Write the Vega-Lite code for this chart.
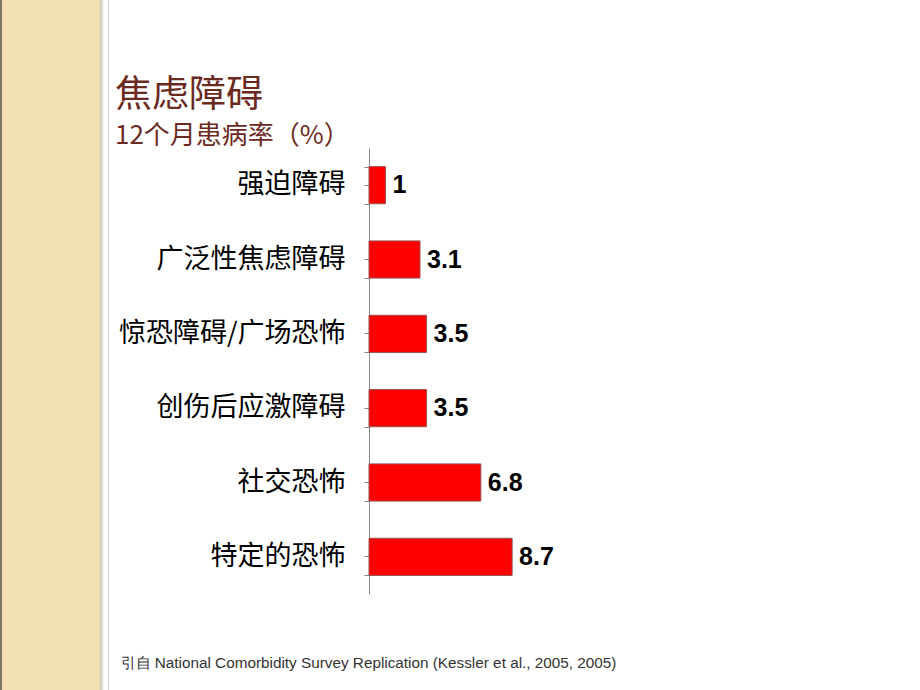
{
  "$schema": "https://vega.github.io/schema/vega-lite/v6.json",
  "width": 920,
  "height": 690,
  "autosize": {"type": "none"},
  "padding": 0,
  "background": "#ffffff",
  "config": {
    "view": {
      "stroke": null,
      "fill": {
        "gradient": "linear",
        "x1": 0, "y1": 0, "x2": 1, "y2": 0,
        "stops": [
          {"offset": 0, "color": "#7a7468"},
          {"offset": 0.0022, "color": "#7a7468"},
          {"offset": 0.0022, "color": "#f2e0b4"},
          {"offset": 0.1087, "color": "#f2e0b4"},
          {"offset": 0.1087, "color": "#c9c1ad"},
          {"offset": 0.112, "color": "#e8e6e0"},
          {"offset": 0.113, "color": "#ffffff"},
          {"offset": 0.117, "color": "#ffffff"},
          {"offset": 0.117, "color": "#d0d0d0"},
          {"offset": 0.1185, "color": "#d0d0d0"},
          {"offset": 0.1185, "color": "#ffffff"},
          {"offset": 1, "color": "#ffffff"}
        ]
      }
    }
  },
  "title": {
    "text": "焦虑障碍",
    "subtitle": "12个月患病率（%）",
    "anchor": "start",
    "frame": "group",
    "orient": "top",
    "offset": -150,
    "dx": 115,
    "font": "Noto Sans CJK SC",
    "fontSize": 37,
    "fontWeight": "normal",
    "color": "#6b2a1f",
    "subtitleFont": "Noto Sans CJK SC",
    "subtitleFontSize": 26,
    "subtitleColor": "#6b2a1f",
    "subtitlePadding": 8
  },
  "data": {
    "values": [
      {"disorder": "强迫障碍", "rate": 1},
      {"disorder": "广泛性焦虑障碍", "rate": 3.1},
      {"disorder": "惊恐障碍/广场恐怖", "rate": 3.5},
      {"disorder": "创伤后应激障碍", "rate": 3.5},
      {"disorder": "社交恐怖", "rate": 6.8},
      {"disorder": "特定的恐怖", "rate": 8.7}
    ]
  },
  "encoding": {
    "x": {
      "field": "rate",
      "type": "quantitative",
      "scale": {"domain": [0, 10], "range": [369, 533.5]},
      "axis": {
        "title": "引自 National Comorbidity Survey Replication (Kessler et al., 2005, 2005)",
        "labels": false,
        "ticks": false,
        "domain": false,
        "grid": false,
        "titleX": 120,
        "titleY": -23,
        "titleAlign": "left",
        "titleAnchor": "start",
        "titleBaseline": "alphabetic",
        "titleFont": "Liberation Sans",
        "titleFontSize": 15.3,
        "titleFontWeight": "normal",
        "titleColor": "#333333"
      }
    }
  },
  "layer": [
    {
      "mark": {"type": "bar", "color": "#ff0000", "stroke": "#9a5050", "strokeWidth": 1},
      "encoding": {
        "y": {
          "field": "disorder",
          "type": "nominal",
          "sort": null,
          "scale": {"range": [148, 594], "paddingInner": 0.5, "paddingOuter": 0.25},
          "axis": {
            "title": null,
            "orient": "left",
            "offset": -369,
            "labelFont": "Noto Sans CJK SC",
            "labelFontSize": 27,
            "labelColor": "#000000",
            "labelPadding": 19,
            "labelLimit": 400,
            "tickSize": 5,
            "tickColor": "#888888",
            "domainColor": "#888888",
            "grid": false
          }
        }
      }
    },
    {
      "mark": {"type": "text", "align": "left", "baseline": "middle", "dx": 7, "font": "Liberation Sans", "fontWeight": "bold", "fontSize": 25, "color": "#000000"},
      "encoding": {
        "y": {
          "field": "disorder",
          "type": "nominal",
          "sort": null,
          "axis": {
            "title": null,
            "orient": "left",
            "offset": -369,
            "tickBand": "extent",
            "labels": false,
            "domain": false,
            "grid": false,
            "tickSize": 5,
            "tickColor": "#888888"
          }
        },
        "text": {"field": "rate", "type": "quantitative"}
      }
    }
  ],
  "resolve": {"axis": {"y": "independent"}}
}
